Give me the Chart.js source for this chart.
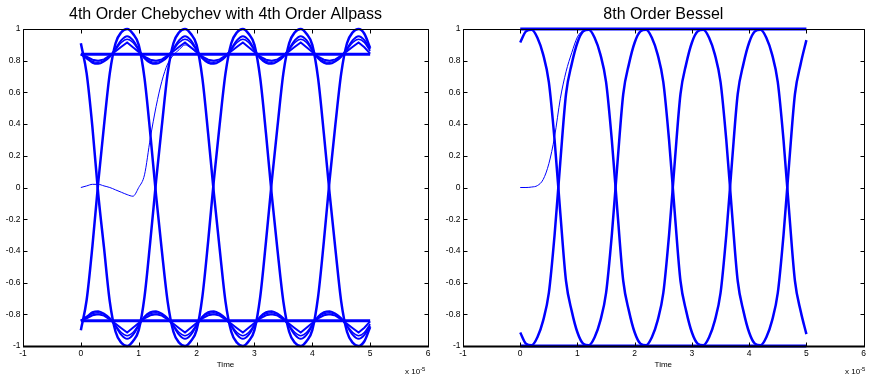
<!DOCTYPE html>
<html>
<head>
<meta charset="utf-8">
<script src="https://cdn.jsdelivr.net/npm/chart.js@4.4.1/dist/chart.umd.min.js"></script>
<style>
	body { margin: 0; background: #fff; }
	#wrap { position: relative; width: 869px; height: 378px; overflow: hidden; background: #fff; }
	canvas { position: absolute; top: 0; }
	.expo { position: absolute; font: 8px "Liberation Sans", Arial, sans-serif; color: #000; white-space: nowrap; }
	.expo sup { font-size: 6px; position: relative; top: -3px; vertical-align: baseline; }
</style>
</head>
<body>
<div id="wrap">
	<canvas id="chebyChart" width="440" height="378" style="left:0px"></canvas>
	<canvas id="besselChart" width="429" height="378" style="left:440px"></canvas>
	<div class="expo" style="left:405px; top:367px">x 10<sup>-5</sup></div>
	<div class="expo" style="left:845px; top:367px">x 10<sup>-5</sup></div>
</div>
<script>
// axis ticks
const xTicks = [-1, 0, 1, 2, 3, 4, 5, 6];
const yTicks = [-1, -0.8, -0.6, -0.4, -0.2, 0, 0.2, 0.4, 0.6, 0.8, 1];

// sample times (x 1e-5)
const timeSteps = [0, 0.1, 0.2, 0.3, 0.4, 0.5, 0.6, 0.7, 0.8, 0.9,
	1, 1.1, 1.2, 1.3, 1.4, 1.5, 1.6, 1.7, 1.8, 1.9,
	2, 2.1, 2.2, 2.3, 2.4, 2.5, 2.6, 2.7, 2.8, 2.9,
	3, 3.1, 3.2, 3.3, 3.4, 3.5, 3.6, 3.7, 3.8, 3.9,
	4, 4.1, 4.2, 4.3, 4.4, 4.5, 4.6, 4.7, 4.8, 4.9, 5];
const levelSteps = [0, 5];

// ---- 4th order Chebychev + allpass ----
const chebyFall = [0.91, 0.72, 0.38, -0.04, -0.38, -0.72, -0.91, -0.98, -1.0, -0.97,
	-0.90, -0.69, -0.34, 0.04, 0.39, 0.72, 0.91, 0.98, 1.0, 0.97,
	0.90, 0.69, 0.34, -0.04, -0.39, -0.72, -0.91, -0.98, -1.0, -0.97,
	-0.90, -0.69, -0.34, 0.04, 0.39, 0.72, 0.91, 0.98, 1.0, 0.97,
	0.90, 0.69, 0.34, -0.04, -0.39, -0.72, -0.91, -0.98, -1.0, -0.97, -0.88];
const chebyRise = [-0.90, -0.71, -0.37, 0.03, 0.39, 0.72, 0.91, 0.98, 1.0, 0.97,
	0.90, 0.69, 0.34, -0.05, -0.40, -0.72, -0.91, -0.98, -1.0, -0.97,
	-0.90, -0.69, -0.34, 0.05, 0.40, 0.72, 0.91, 0.98, 1.0, 0.97,
	0.90, 0.69, 0.34, -0.05, -0.40, -0.72, -0.91, -0.98, -1.0, -0.97,
	-0.90, -0.69, -0.34, 0.05, 0.40, 0.72, 0.91, 0.98, 1.0, 0.97, 0.88];
const chebyHighLevel = [0.84, 0.84];
const chebyLowLevel = [-0.84, -0.84];
const chebyHighRipple1 = [0.84, 0.815, 0.787, 0.78, 0.795, 0.825, 0.875, 0.93, 0.955, 0.93,
	0.87, 0.815, 0.787, 0.78, 0.795, 0.825, 0.875, 0.93, 0.955, 0.93,
	0.87, 0.815, 0.787, 0.78, 0.795, 0.825, 0.875, 0.93, 0.955, 0.93,
	0.87, 0.815, 0.787, 0.78, 0.795, 0.825, 0.875, 0.93, 0.955, 0.93,
	0.87, 0.815, 0.787, 0.78, 0.795, 0.825, 0.875, 0.93, 0.955, 0.93, 0.87];
const chebyHighRipple2 = [0.84, 0.826, 0.806, 0.80, 0.808, 0.832, 0.86, 0.888, 0.915, 0.885,
	0.855, 0.826, 0.806, 0.80, 0.808, 0.832, 0.86, 0.888, 0.915, 0.885,
	0.855, 0.826, 0.806, 0.80, 0.808, 0.832, 0.86, 0.888, 0.915, 0.885,
	0.855, 0.826, 0.806, 0.80, 0.808, 0.832, 0.86, 0.888, 0.915, 0.885,
	0.855, 0.826, 0.806, 0.80, 0.808, 0.832, 0.86, 0.888, 0.915, 0.885, 0.845];
const chebyHighRipple3 = [0.84, 0.818, 0.796, 0.79, 0.80, 0.828, 0.87, 0.915, 0.935, 0.915,
	0.865, 0.818, 0.796, 0.79, 0.80, 0.828, 0.87, 0.915, 0.935, 0.915,
	0.865, 0.818, 0.796, 0.79, 0.80, 0.828, 0.87, 0.915, 0.935, 0.915,
	0.865, 0.818, 0.796, 0.79, 0.80, 0.828, 0.87, 0.915, 0.935, 0.915,
	0.865, 0.818, 0.796, 0.79, 0.80, 0.828, 0.87, 0.915, 0.935, 0.915, 0.86];
const chebyLowRipple1 = [-0.84, -0.815, -0.787, -0.78, -0.795, -0.825, -0.875, -0.93, -0.955, -0.93,
	-0.87, -0.815, -0.787, -0.78, -0.795, -0.825, -0.875, -0.93, -0.955, -0.93,
	-0.87, -0.815, -0.787, -0.78, -0.795, -0.825, -0.875, -0.93, -0.955, -0.93,
	-0.87, -0.815, -0.787, -0.78, -0.795, -0.825, -0.875, -0.93, -0.955, -0.93,
	-0.87, -0.815, -0.787, -0.78, -0.795, -0.825, -0.875, -0.93, -0.955, -0.93, -0.87];
const chebyLowRipple2 = [-0.84, -0.826, -0.806, -0.80, -0.808, -0.832, -0.86, -0.888, -0.915, -0.885,
	-0.855, -0.826, -0.806, -0.80, -0.808, -0.832, -0.86, -0.888, -0.915, -0.885,
	-0.855, -0.826, -0.806, -0.80, -0.808, -0.832, -0.86, -0.888, -0.915, -0.885,
	-0.855, -0.826, -0.806, -0.80, -0.808, -0.832, -0.86, -0.888, -0.915, -0.885,
	-0.855, -0.826, -0.806, -0.80, -0.808, -0.832, -0.86, -0.888, -0.915, -0.885, -0.845];
const chebyLowRipple3 = [-0.84, -0.818, -0.796, -0.79, -0.80, -0.828, -0.87, -0.915, -0.935, -0.915,
	-0.865, -0.818, -0.796, -0.79, -0.80, -0.828, -0.87, -0.915, -0.935, -0.915,
	-0.865, -0.818, -0.796, -0.79, -0.80, -0.828, -0.87, -0.915, -0.935, -0.915,
	-0.865, -0.818, -0.796, -0.79, -0.80, -0.828, -0.87, -0.915, -0.935, -0.915,
	-0.865, -0.818, -0.796, -0.79, -0.80, -0.828, -0.87, -0.915, -0.935, -0.915, -0.86];
// start-up transient (first 2e-5)
const chebyStartup = [0, 0.01, 0.02, 0.02, 0.01, 0.0, -0.015, -0.03, -0.045, -0.055,
	0.0, 0.08, 0.31, 0.51, 0.67, 0.78, 0.835, 0.87, 0.9, 0.88, 0.85];

// ---- 8th order Bessel ----
const besselFall = [0.915, 0.985, 0.995, 0.945, 0.84, 0.665, 0.30, -0.16, -0.59, -0.78,
	-0.915, -0.985, -0.995, -0.945, -0.84, -0.665, -0.30, 0.16, 0.59, 0.78,
	0.915, 0.985, 0.995, 0.945, 0.84, 0.665, 0.30, -0.16, -0.59, -0.78,
	-0.915, -0.985, -0.995, -0.945, -0.84, -0.665, -0.30, 0.16, 0.59, 0.78,
	0.915, 0.985, 0.995, 0.945, 0.84, 0.665, 0.30, -0.16, -0.59, -0.78, -0.925];
const besselRise = [-0.915, -0.985, -0.995, -0.945, -0.84, -0.665, -0.30, 0.16, 0.59, 0.78,
	0.915, 0.985, 0.995, 0.945, 0.84, 0.665, 0.30, -0.16, -0.59, -0.78,
	-0.915, -0.985, -0.995, -0.945, -0.84, -0.665, -0.30, 0.16, 0.59, 0.78,
	0.915, 0.985, 0.995, 0.945, 0.84, 0.665, 0.30, -0.16, -0.59, -0.78,
	-0.915, -0.985, -0.995, -0.945, -0.84, -0.665, -0.30, 0.16, 0.59, 0.78, 0.93];
const besselHighLevel = [1, 1];
const besselLowLevel = [-1, -1];
const besselStartup = [0, 0, 0.003, 0.012, 0.05, 0.15, 0.32, 0.56, 0.73, 0.85, 0.95, 0.99, 1.0];

const BLUE = '#0000ff';
const FONT = '"Liberation Sans", Arial, sans-serif';

function pts(xs, ys) {
	return ys.map((y, i) => ({ x: xs[i], y: y }));
}

function trace(xs, ys, width, smooth) {
	return {
		data: pts(xs, ys),
		borderColor: BLUE,
		borderWidth: width,
		pointRadius: 0,
		fill: false,
		clip: false,
		tension: 0,
		cubicInterpolationMode: smooth ? 'monotone' : 'default',
	};
}

// matlab style box with inward ticks
const boxPlugin = {
	id: 'box',
	afterDatasetsDraw(chart) {
		const { ctx, chartArea: a, scales } = chart;
		const l = Math.round(a.left) + 0.5, r = Math.round(a.right) + 0.5;
		const t = Math.round(a.top) + 0.5, b = Math.round(a.bottom) + 0.5;
		ctx.save();
		ctx.strokeStyle = '#000';
		ctx.lineWidth = 1;
		ctx.beginPath();
		for (let v of xTicks) {
			let px = Math.round(scales.x.getPixelForValue(v)) + 0.5;
			ctx.moveTo(px, b); ctx.lineTo(px, b - 4);
			ctx.moveTo(px, t); ctx.lineTo(px, t + 4);
		}
		for (let v of yTicks) {
			let py = Math.round(scales.y.getPixelForValue(v)) + 0.5;
			ctx.moveTo(l, py); ctx.lineTo(l + 4, py);
			ctx.moveTo(r, py); ctx.lineTo(r - 4, py);
		}
		ctx.moveTo(l, t); ctx.lineTo(r, t); ctx.lineTo(r, b);
		ctx.moveTo(l, t); ctx.lineTo(l, b);
		ctx.stroke();
		// bottom edge is drawn heavier
		ctx.lineWidth = 2;
		ctx.beginPath();
		ctx.moveTo(l - 0.5, b); ctx.lineTo(r + 0.5, b);
		ctx.stroke();
		ctx.restore();
	}
};

function makeChart(id, title, datasets, padRight) {
	return new Chart(document.getElementById(id), {
		type: 'line',
		data: { datasets: datasets },
		options: {
			responsive: false,
			animation: false,
			events: [],
			layout: { padding: { left: 0, right: padRight, top: 0, bottom: 0 } },
			plugins: {
				legend: { display: false },
				tooltip: { enabled: false },
				title: {
					display: true,
					text: title,
					fullSize: false,
					color: '#000',
					font: { family: FONT, size: 16, weight: 'normal' },
					padding: { top: 4.6, bottom: 5.2 },
				},
			},
			scales: {
				x: {
					type: 'linear',
					min: -1,
					max: 6,
					afterBuildTicks: (s) => { s.ticks = xTicks.map(v => ({ value: v })); },
					afterFit: (s) => { s.height = 32; },
					grid: { display: false, drawTicks: false },
					border: { display: false },
					ticks: { color: '#000', font: { family: FONT, size: 8.5 }, padding: 3, maxRotation: 0, autoSkip: false,
						callback: (v) => String(v) },
					title: { display: true, text: 'Time', color: '#000', font: { family: FONT, size: 8 }, padding: { top: 0, bottom: 8 } },
				},
				y: {
					type: 'linear',
					min: -1,
					max: 1,
					afterBuildTicks: (s) => { s.ticks = yTicks.map(v => ({ value: v })); },
					afterFit: (s) => { s.width = 23; },
					grid: { display: false, drawTicks: false },
					border: { display: false },
					ticks: { color: '#000', font: { family: FONT, size: 8.5 }, padding: 2.5, autoSkip: false,
						callback: (v) => String(v) },
				},
			},
		},
		plugins: [boxPlugin],
	});
}

makeChart('chebyChart', '4th Order Chebychev with 4th Order Allpass', [
	trace(levelSteps, chebyHighLevel, 3, false),
	trace(levelSteps, chebyLowLevel, 3, false),
	trace(timeSteps, chebyHighRipple1, 2, true),
	trace(timeSteps, chebyHighRipple2, 2, false),
	trace(timeSteps, chebyHighRipple3, 1.5, true),
	trace(timeSteps, chebyLowRipple1, 2, true),
	trace(timeSteps, chebyLowRipple2, 2, false),
	trace(timeSteps, chebyLowRipple3, 1.5, true),
	trace(timeSteps, chebyFall, 2.5, true),
	trace(timeSteps, chebyRise, 2.5, true),
	trace(timeSteps, chebyStartup, 1, true),
], 12);

makeChart('besselChart', '8th Order Bessel', [
	trace(levelSteps, besselHighLevel, 3, false),
	trace(levelSteps, besselLowLevel, 3, false),
	trace(timeSteps, besselFall, 2.5, true),
	trace(timeSteps, besselRise, 2.5, true),
	trace(timeSteps, besselStartup, 1, true),
], 2);
</script>
</body>
</html>
